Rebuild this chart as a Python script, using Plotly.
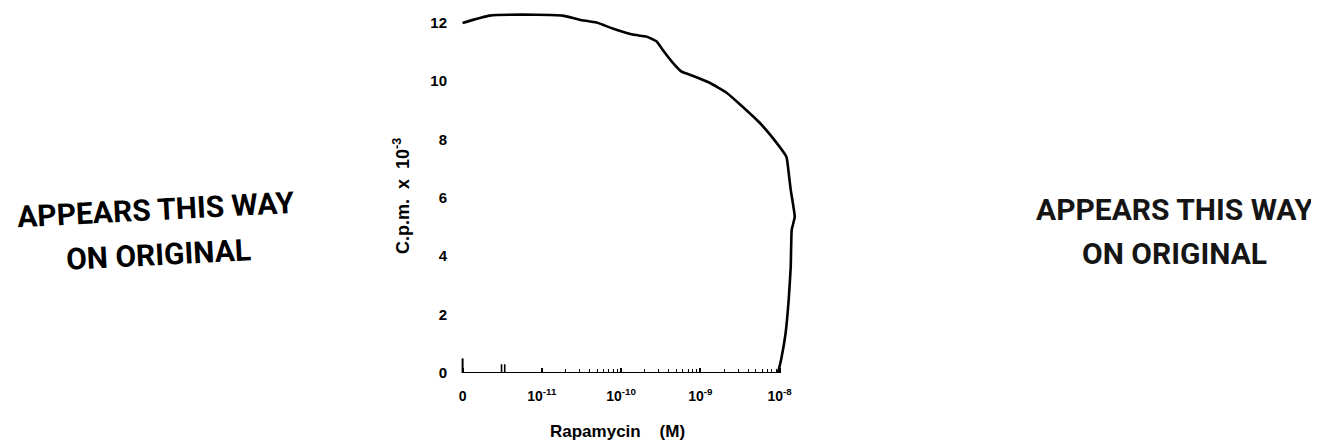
import plotly.graph_objects as go

# ---------------- data ----------------
# Rapamycin concentration (M); 0 = no drug (plotted at the "0" position of the broken axis)
rapamycin_M = [0, 2.19e-12, 8.6e-12, 1.83e-11, 2.99e-11, 4.9e-11, 7.8e-11, 1.40e-10,
               2.10e-10, 2.81e-10, 3.34e-10, 4.47e-10, 5.8e-10, 7.98e-10, 1.31e-9,
               2.14e-9, 3.41e-9, 5.6e-9, 9.16e-9, 1.22e-8, 1.30e-8, 1.38e-8, 1.55e-8,
               1.42e-8, 1.38e-8, 1.30e-8, 1.19e-8, 1.06e-8, 9.7e-9, 9.4e-9]
# counts per minute x 10^-3
cpm_x1e3 = [11.99, 12.24, 12.27, 12.24, 12.10, 12.00, 11.80, 11.59, 11.52, 11.35,
            11.07, 10.63, 10.32, 10.18, 9.94, 9.60, 9.12, 8.57, 7.88, 7.40, 6.86,
            6.27, 5.35, 4.90, 3.63, 2.50, 1.37, 0.55, 0.10, 0.00]

x_tick_vals = [1e-12, 1e-11, 1e-10, 1e-9, 1e-8]
x_tick_text = ["0", "10<sup>-11</sup>", "10<sup>-10</sup>", "10<sup>-9</sup>", "10<sup>-8</sup>"]
y_tick_vals = [0, 2, 4, 6, 8, 10, 12]
y_tick_text = ["0", "2", "4", "6", "8", "10", "12"]

x_title = "Rapamycin\u00a0\u00a0\u00a0\u00a0(M)"
y_title = "C.p.m.\u00a0\u00a0x\u00a0\u00a010<sup>-3</sup>"
stamp_line1 = "APPEARS THIS WAY"
stamp_line2 = "ON ORIGINAL"

ZERO_POS = x_tick_vals[0]          # where "0" sits on the log axis
BREAK_POS = [3.1e-12, 3.4e-12]     # axis-break marks
minor_vals = [k * 10.0 ** e for e in (-11, -10, -9) for k in range(2, 10)]

xs = [ZERO_POS if v == 0 else v for v in rapamycin_M]

# ---------------- geometry ----------------
# the page body has an 8px margin, so the figure starts at (8, 8) on screen
OFF = 8
W, H = 1319 - OFF, 447 - OFF
SL, SR, ST, SB = 461, 805, 8, 373        # plot area in screen pixels
L, R, T, B = SL - OFF, W - (SR - OFF), ST - OFF, H - (SB - OFF)
PW, PH = W - L - R, H - T - B


def px(xs_screen):
    return (xs_screen - SL) / PW


def py(ys_screen):
    return (SB - ys_screen) / PH


BOLD = "Liberation Sans, Arial, sans-serif"
STAMP = "Roboto, Liberation Sans, sans-serif"

fig = go.Figure()
fig.add_trace(go.Scatter(
    x=xs, y=cpm_x1e3, mode="lines",
    line=dict(color="black", width=2.6, shape="spline", smoothing=0.4),
    hoverinfo="skip", showlegend=False,
))

shapes = [
    # x-axis baseline (ends where the curve returns to zero)
    dict(type="line", xref="x", yref="y", x0=ZERO_POS, x1=xs[-1], y0=0, y1=0,
         line=dict(color="black", width=2.2), layer="above"),
    # short vertical stub at the origin
    dict(type="line", xref="x", yref="y", x0=ZERO_POS, x1=ZERO_POS, y0=0, y1=0.5,
         line=dict(color="black", width=2), layer="above"),
]
for bp in BREAK_POS:
    shapes.append(dict(type="line", xref="x", yref="y", x0=bp, x1=bp, y0=0, y1=0.3,
                       line=dict(color="black", width=1.6), layer="above"))

annotations = [
    dict(text=x_title, xref="paper", yref="paper", x=px(617), y=py(431),
         xanchor="center", yanchor="middle", showarrow=False,
         font=dict(family=BOLD, size=17, color="black", weight="bold")),
    dict(text=y_title, xref="paper", yref="paper", x=px(401), y=py(196),
         xanchor="center", yanchor="middle", showarrow=False, textangle=-90,
         font=dict(family=BOLD, size=18, color="black", weight="bold")),
    dict(text=stamp_line1, xref="paper", yref="paper", x=px(156), y=py(210),
         xanchor="center", yanchor="middle", showarrow=False, textangle=-3,
         font=dict(family=STAMP, size=30, color="black", weight="bold")),
    dict(text=stamp_line2, xref="paper", yref="paper", x=px(158), y=py(254),
         xanchor="center", yanchor="middle", showarrow=False, textangle=-3,
         font=dict(family=STAMP, size=30, color="black", weight="bold")),
    dict(text=stamp_line1, xref="paper", yref="paper", x=px(1175), y=py(210),
         xanchor="center", yanchor="middle", showarrow=False,
         font=dict(family=STAMP, size=30, color="#151515", weight="bold")),
    dict(text=stamp_line2, xref="paper", yref="paper", x=px(1174), y=py(253),
         xanchor="center", yanchor="middle", showarrow=False,
         font=dict(family=STAMP, size=30, color="#151515", weight="bold")),
]

fig.update_layout(
    width=W, height=H,
    margin=dict(l=L, r=R, t=T, b=B, pad=0),
    paper_bgcolor="white", plot_bgcolor="white",
    shapes=shapes, annotations=annotations,
    xaxis=dict(
        type="log", range=[-12.02, -7.68],
        showline=False, showgrid=False, zeroline=False,
        tickmode="array", tickvals=x_tick_vals, ticktext=x_tick_text,
        ticks="inside", ticklen=5, tickwidth=1.5, tickcolor="black",
        ticklabelstandoff=13,
        tickfont=dict(family=BOLD, size=14, color="black", weight="bold"),
        minor=dict(tickmode="array", tickvals=minor_vals, ticks="inside",
                   ticklen=4, tickwidth=1.2, tickcolor="black", showgrid=False),
    ),
    yaxis=dict(
        range=[0, 12.5],
        showline=False, showgrid=False, zeroline=False,
        tickmode="array", tickvals=y_tick_vals, ticktext=y_tick_text,
        ticks="", ticklabelstandoff=13,
        tickfont=dict(family=BOLD, size=15, color="black", weight="bold"),
    ),
)

fig.write_html("out.html")
